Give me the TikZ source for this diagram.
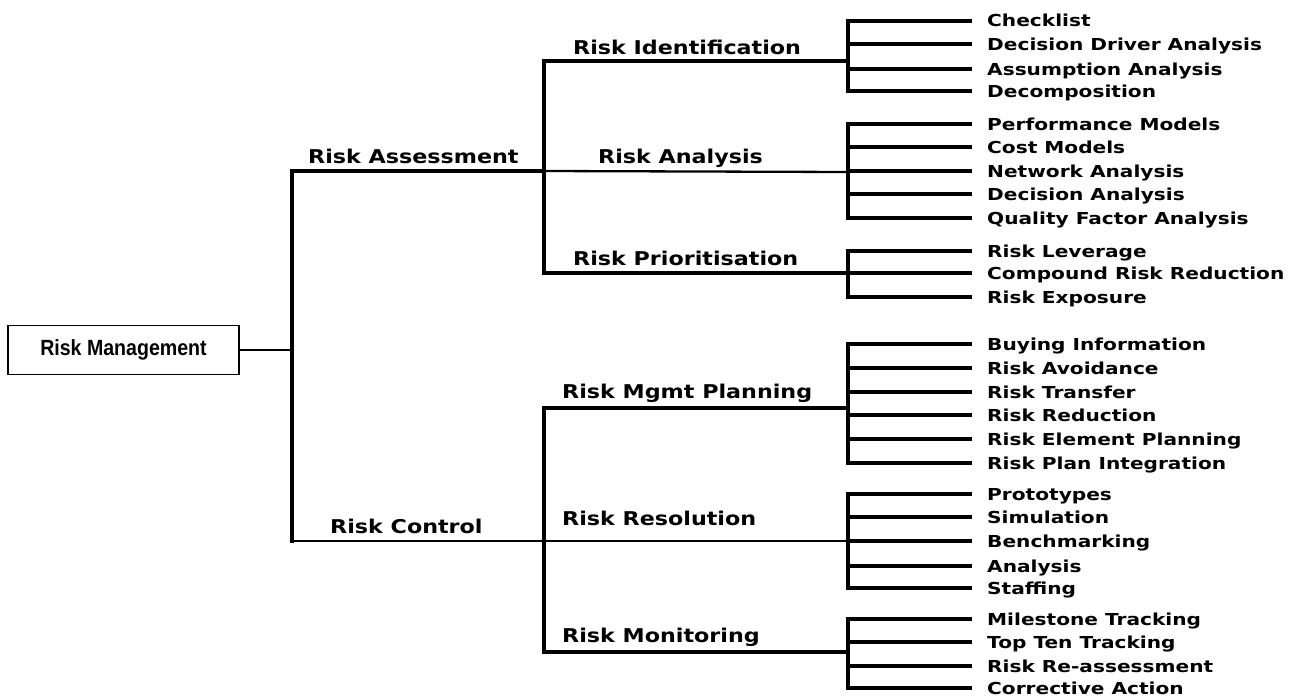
\documentclass[tikz,border=0pt]{standalone}
\usepackage{fontspec}
\setmainfont{DejaVu Sans}
\newfontfamily\boxfont{Liberation Sans}
\usepackage{graphicx}
\tikzset{
  thk/.style={line width=3.4pt, line cap=rect},
  thn/.style={line width=2.3pt},
  lvl/.style={anchor=base west, inner sep=0pt, font=\bfseries\fontsize{19}{19}\selectfont},
  leaf/.style={anchor=base west, inner sep=0pt, font=\bfseries\fontsize{16.5}{16.5}\selectfont},
  rootbox/.style={draw, line width=1.6pt, minimum width=231pt, minimum height=49pt, inner sep=0pt, font=\boxfont\bfseries\fontsize{22}{22}\selectfont},
}
\newcommand{\wlvl}[1]{\scalebox{1.17}[1]{#1}}
\newcommand{\wleaf}[1]{\scalebox{1.22}[1]{#1}}
\newcommand{\wroot}[1]{\scalebox{0.89}[1]{#1}}
\begin{document}
\begin{tikzpicture}[x=1pt,y=-1pt]
\useasboundingbox[fill=white] (0,0) rectangle (1291,696);
% root
\node[rootbox] (root) at (123.5,350) {\wroot{Risk Management}};
% trunk
\coordinate (tTop) at (292,171);
\coordinate (tBot) at (292,541);
\coordinate (tMid) at (292,350);
\draw[thn] (root.east) -- (tMid);
\draw[thk] (tTop) -- (tBot);
\coordinate (aJ) at (544,171);
\coordinate (cJ) at (544,541);
\draw[thk] (tTop) -- (aJ);
\draw[thn] (tBot) -- (cJ);
\node[lvl] (assess) at (308,163) {\wlvl{Risk Assessment}};
\node[lvl] (control) at (330,533) {\wlvl{Risk Control}};
% level 2 - assessment
\coordinate (aTop) at (544,61);
\coordinate (aBot) at (544,273);
\draw[thk] (aTop) -- (aBot);
\coordinate (riJ) at (848,61);
\coordinate (ranJ) at (848,172);
\coordinate (rpJ) at (848,273);
\draw[thk] (aTop) -- (riJ);
\draw[thn] (aJ) -- (ranJ);
\draw[thk] (aBot) -- (rpJ);
\node[lvl] (ri) at (573,54) {\wlvl{Risk Identification}};
\node[lvl] (ran) at (598,163) {\wlvl{Risk Analysis}};
\node[lvl] (rp) at (573,265) {\wlvl{Risk Prioritisation}};
% level 2 - control
\coordinate (cTop) at (544,408);
\coordinate (cBot) at (544,652);
\draw[thk] (cTop) -- (cBot);
\coordinate (rmpJ) at (848,408);
\coordinate (rrJ) at (848,541);
\coordinate (rmoJ) at (848,652);
\draw[thk] (cTop) -- (rmpJ);
\draw[thn] (cJ) -- (rrJ);
\draw[thk] (cBot) -- (rmoJ);
\node[lvl] (rmp) at (562,398) {\wlvl{Risk Mgmt Planning}};
\node[lvl] (rr) at (562,525) {\wlvl{Risk Resolution}};
\node[lvl] (rmo) at (562,642) {\wlvl{Risk Monitoring}};
% level 3 groups
\foreach \y/\t [count=\i] in {21/Checklist, 44/Decision Driver Analysis, 69/Assumption Analysis, 91/Decomposition} {
  \coordinate (ri-s\i) at (848,\y);
  \coordinate (ri-e\i) at (970,\y);
  \node[leaf] (ri-\i) at (987,\y+6) {\wleaf{\t}};
  \draw[thk] (ri-s\i) -- (ri-e\i);
}
\draw[thk] (ri-s1) -- (ri-s4);
\foreach \y/\t [count=\i] in {124/Performance Models, 147/Cost Models, 171/Network Analysis, 194/Decision Analysis, 218/Quality Factor Analysis} {
  \coordinate (ran-s\i) at (848,\y);
  \coordinate (ran-e\i) at (970,\y);
  \node[leaf] (ran-\i) at (987,\y+6) {\wleaf{\t}};
  \draw[thk] (ran-s\i) -- (ran-e\i);
}
\draw[thk] (ran-s1) -- (ran-s5);
\foreach \y/\t [count=\i] in {251/Risk Leverage, 273/Compound Risk Reduction, 297/Risk Exposure} {
  \coordinate (rp-s\i) at (848,\y);
  \coordinate (rp-e\i) at (970,\y);
  \node[leaf] (rp-\i) at (987,\y+6) {\wleaf{\t}};
  \draw[thk] (rp-s\i) -- (rp-e\i);
}
\draw[thk] (rp-s1) -- (rp-s3);
\foreach \y/\t [count=\i] in {344/Buying Information, 368/Risk Avoidance, 392/Risk Transfer, 415/Risk Reduction, 439/Risk Element Planning, 463/Risk Plan Integration} {
  \coordinate (rmp-s\i) at (848,\y);
  \coordinate (rmp-e\i) at (970,\y);
  \node[leaf] (rmp-\i) at (987,\y+6) {\wleaf{\t}};
  \draw[thk] (rmp-s\i) -- (rmp-e\i);
}
\draw[thk] (rmp-s1) -- (rmp-s6);
\foreach \y/\t [count=\i] in {494/Prototypes, 517/Simulation, 541/Benchmarking, 566/Analysis, 588/Staffing} {
  \coordinate (rr-s\i) at (848,\y);
  \coordinate (rr-e\i) at (970,\y);
  \node[leaf] (rr-\i) at (987,\y+6) {\wleaf{\t}};
  \draw[thk] (rr-s\i) -- (rr-e\i);
}
\draw[thk] (rr-s1) -- (rr-s5);
\foreach \y/\t [count=\i] in {619/Milestone Tracking, 642/Top Ten Tracking, 666/Risk Re-assessment, 688/Corrective Action} {
  \coordinate (rmo-s\i) at (848,\y);
  \coordinate (rmo-e\i) at (970,\y);
  \node[leaf] (rmo-\i) at (987,\y+6) {\wleaf{\t}};
  \draw[thk] (rmo-s\i) -- (rmo-e\i);
}
\draw[thk] (rmo-s1) -- (rmo-s4);
\end{tikzpicture}
\end{document}
